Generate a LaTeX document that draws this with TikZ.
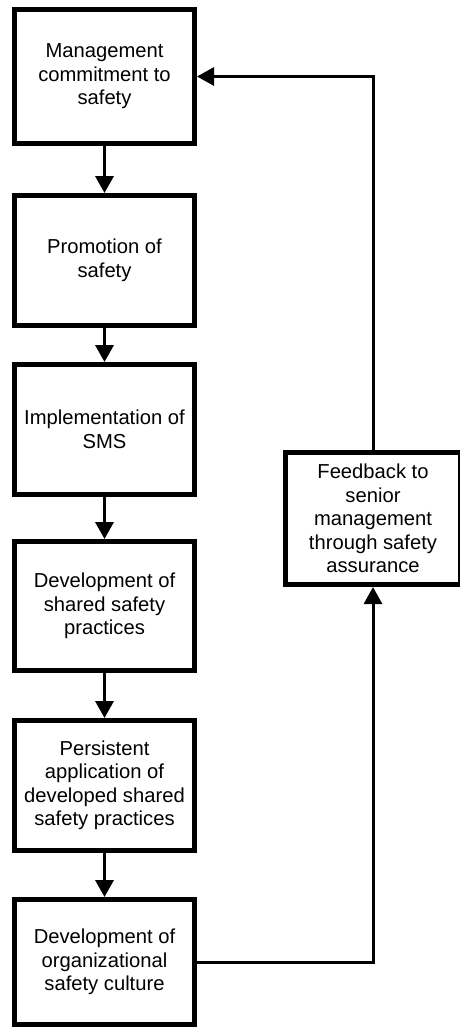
\documentclass[tikz,border=0pt]{standalone}
\usepackage{fontspec}
\setmainfont{Liberation Sans}
\usetikzlibrary{arrows.meta}
\begin{document}
\begin{tikzpicture}[x=1pt,y=-1pt,
  stage/.style={draw, line width=5pt, rectangle, align=center,
    minimum width=180pt, inner sep=0pt,
    font=\fontsize{20.2}{23.5}\selectfont},
  flow/.style={line width=3.5pt, -{Triangle[length=17pt,width=18pt]}},
  back/.style={line width=3pt, -{Triangle[length=17pt,width=18pt]}}]
\useasboundingbox (0,0) rectangle (460,1029);
% main chain of stages
\node[stage, minimum height=134pt] (b1) at (104.5,76.5) {Management\\commitment to\\safety};
\node[stage, minimum height=130pt] (b2) at (104.5,260.5) {Promotion of\\safety};
\node[stage, minimum height=130pt] (b3) at (104.5,429.5) {Implementation of\\SMS};
\node[stage, minimum height=129pt] (b4) at (104.5,606) {Development of\\shared safety\\practices};
\node[stage, minimum height=130pt] (b5) at (104.5,785.5) {Persistent\\application of\\developed shared\\safety practices};
\node[stage, minimum height=125pt] (b6) at (104.5,962) {Development of\\organizational\\safety culture};
% feedback stage
\node[stage, minimum width=175pt, minimum height=132pt] (fb) at (373,518.5) {Feedback to\\senior\\management\\through safety\\assurance};
% downward flow
\draw[flow] (b1.south) -- (b2.north);
\draw[flow] (b2.south) -- (b3.north);
\draw[flow] (b3.south) -- (b4.north);
\draw[flow] (b4.south) -- (b5.north);
\draw[flow] (b5.south) -- (b6.north);
% feedback loop
\draw[back] (b6.east) -| (fb.south);
\draw[back] (fb.north) |- (b1.east);
\end{tikzpicture}
\end{document}
